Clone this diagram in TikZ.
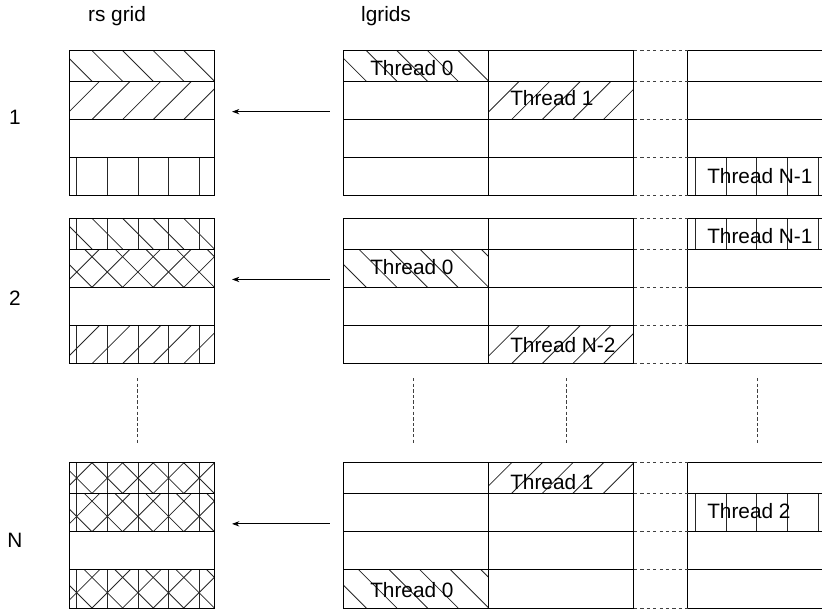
\documentclass[tikz,border=0pt]{standalone}
\usepackage{fontspec}
\setmainfont{Liberation Sans}
\usetikzlibrary{arrows.meta, positioning, calc}

% hatching of one cell: #1 left edge, #2 top, #3 bottom
\newcommand{\hatchdn}[3]{%
  \begin{scope}
    \clip (#1,#2) rectangle (#1+145.3,#3);
    \foreach \k in {0,...,5}
      \draw[hatch] (#1+23+30.6*\k-40,#3-40) -- ++(40,40);
  \end{scope}}
\newcommand{\hatchup}[3]{%
  \begin{scope}
    \clip (#1,#2) rectangle (#1+145.3,#3);
    \foreach \k in {-2,...,4}
      \draw[hatch] (#1+23+30.6*\k,#3) -- ++(40,-40);
  \end{scope}}
\newcommand{\hatchvt}[3]{%
  \begin{scope}
    \clip (#1,#2) rectangle (#1+145.3,#3);
    \foreach \k in {0,...,4}
      \draw[hatch] (#1+7.7+30.6*\k,#2) -- (#1+7.7+30.6*\k,#3);
  \end{scope}}

\begin{document}
\begin{tikzpicture}[
        x=0.75pt, y=-0.75pt,
        font=\fontsize{15.6}{18}\selectfont,
        gridbox/.style={rectangle, draw, line width=0.75pt, inner sep=0pt, outer sep=0pt, minimum width=108.975pt, minimum height=108.975pt},
        rowline/.style={line width=0.75pt},
        hatch/.style={line width=0.6pt, draw=black!85},
        gapline/.style={line width=0.7pt, draw=black!75, dash pattern=on 2.4pt off 2.4pt},
        vdots/.style={line width=0.6pt, draw=black!75, dash pattern=on 2.6pt off 1.6pt},
        thread/.style={anchor=west, inner sep=0pt},
        arrow/.style={-{Stealth[length=5.5pt, width=4pt]}, line width=0.6pt}
    ]
        \useasboundingbox (0,0) rectangle (822,608);
        \clip (0,0) rectangle (822,608);

        % hatching, rs grid
        \hatchdn{69}{50.5}{81.2}
        \hatchup{69}{81.2}{119.5}
        \hatchvt{69}{157.5}{195.8}
        \hatchvt{69}{218.3}{249}  \hatchdn{69}{218.3}{249}
        \hatchdn{69}{249}{287.3}  \hatchup{69}{249}{287.3}
        \hatchvt{69}{325.3}{363.6} \hatchup{69}{325.3}{363.6}
        \foreach \t/\u in {462.7/493.4, 493.4/531.7, 569.7/608} {
            \hatchvt{69}{\t}{\u} \hatchdn{69}{\t}{\u} \hatchup{69}{\t}{\u}
        }

        % hatching, lgrids
        \hatchdn{343.3}{50.5}{81.2}
        \hatchup{488.6}{81.2}{119.5}
        \hatchvt{687.9}{157.5}{195.8}
        \hatchvt{687.9}{218.3}{249}
        \hatchdn{343.3}{249}{287.3}
        \hatchup{488.6}{325.3}{363.6}
        \hatchup{488.6}{462.7}{493.4}
        \hatchvt{687.9}{493.4}{531.7}
        \hatchdn{343.3}{569.7}{608}

        % the three blocks
        \foreach \b/\y/\ly in {1/123.15/117, 2/290.95/298, N/535.35/540} {
            \node[gridbox] (rs\b) at (141.65,\y) {};
            \node[gridbox] (lg\b a) at (415.95,\y) {};
            \node[gridbox, right=0pt of lg\b a] (lg\b b) {};
            \node[gridbox, right=40.5pt of lg\b b] (lg\b c) {};
            \foreach \n in {rs\b, lg\b a, lg\b b, lg\b c}
                \foreach \r in {30.7,69,107}
                    \draw[rowline] (\n.north west) ++(0,\r) -- ++(145.3,0);
            \foreach \r in {0,30.7,69,107,145.3}
                \draw[gapline] ($(lg\b b.north east)+(0,\r)$) -- ($(lg\b c.north west)+(0,\r)$);
            \node (num\b) at (15,\ly) {\b};
            \coordinate (arr\b) at (0,\y-11.5);
            \draw[arrow, shorten <=10pt, shorten >=13.3pt] (lg\b a.west |- arr\b) -- (rs\b.east |- arr\b);
        }

        % thread labels
        \node[thread] (t1a) at (370,68.5) {Thread 0};
        \node[thread] (t1b) at (510,98.5) {Thread 1};
        \node[thread] (t1c) at (707,176.5) {Thread N-1};
        \node[thread] (t2c) at (707,236.5) {Thread N-1};
        \node[thread] (t2a) at (370,266.7) {Thread 0};
        \node[thread] (t2b) at (510,345) {Thread N-2};
        \node[thread] (tNb) at (510,482) {Thread 1};
        \node[thread] (tNc) at (707,511.5) {Thread 2};
        \node[thread] (tNa) at (370,590) {Thread 0};

        % headings
        \node (rshead) at (117,16) {rs grid};
        \node (lghead) at (386,16) {lgrids};

        % skipped blocks
        \foreach \x in {137,413,566,757}
            \draw[vdots] (\x,378) -- (\x,445);
\end{tikzpicture}
\end{document}
